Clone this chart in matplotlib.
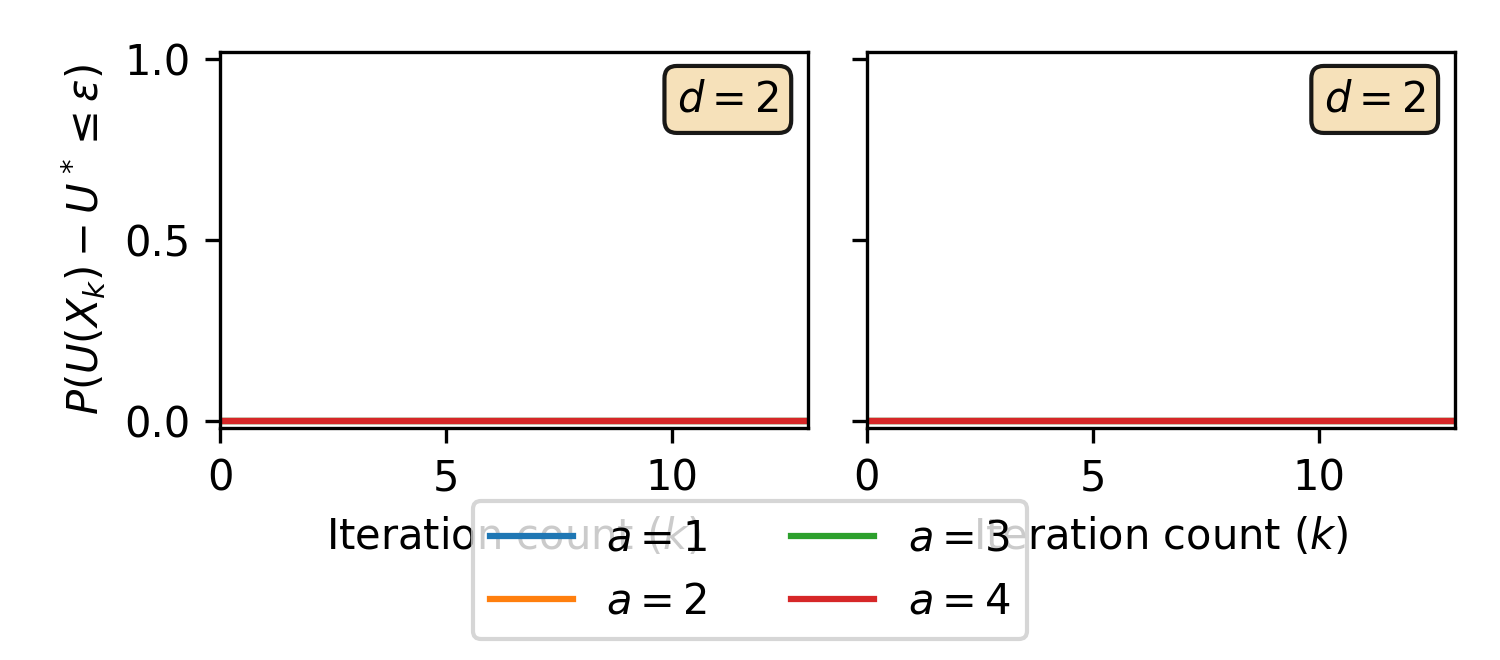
import numpy as np
import matplotlib
matplotlib.use("Agg")
import matplotlib.pyplot as plt

# iteration counts and success probabilities for each a (all zero here)
k = [0, 1, 2, 3, 4, 5, 6, 7, 8, 9, 10, 11, 12, 13]
p_a1 = [0, 0, 0, 0, 0, 0, 0, 0, 0, 0, 0, 0, 0, 0]
p_a2 = [0, 0, 0, 0, 0, 0, 0, 0, 0, 0, 0, 0, 0, 0]
p_a3 = [0, 0, 0, 0, 0, 0, 0, 0, 0, 0, 0, 0, 0, 0]
p_a4 = [0, 0, 0, 0, 0, 0, 0, 0, 0, 0, 0, 0, 0, 0]
a_labels = ["$a = 1$", "$a = 2$", "$a = 3$", "$a = 4$"]
panel_d = [2, 2]

fig, axes = plt.subplots(1, 2, figsize=(5, 2.2), dpi=300, sharey=True)
fig.subplots_adjust(left=0.1467, right=0.97, top=0.921, bottom=0.3515, wspace=0.1)

for ax, d in zip(axes, panel_d):
    for p, lab in zip([p_a1, p_a2, p_a3, p_a4], a_labels):
        ax.plot(k, p, label=lab)
    ax.set_xlim(0, 13)
    ax.set_ylim(-0.02, 1.02)
    ax.set_xticks([0, 5, 10])
    ax.set_yticks([0.0, 0.5, 1.0])
    ax.set_xlabel("Iteration count ($k$)")
    ax.text(0.95, 0.93, "$d = %d$" % d, transform=ax.transAxes, ha="right", va="top",
            bbox=dict(boxstyle="round", facecolor="wheat", edgecolor="black", alpha=0.9))

axes[0].set_ylabel(r"$P(U(X_k) - U^* \leq \varepsilon)$")

handles, labels = axes[0].get_legend_handles_labels()
fig.legend(handles, labels, loc="lower center", ncol=2)

fig.savefig("out.png", dpi=300)
